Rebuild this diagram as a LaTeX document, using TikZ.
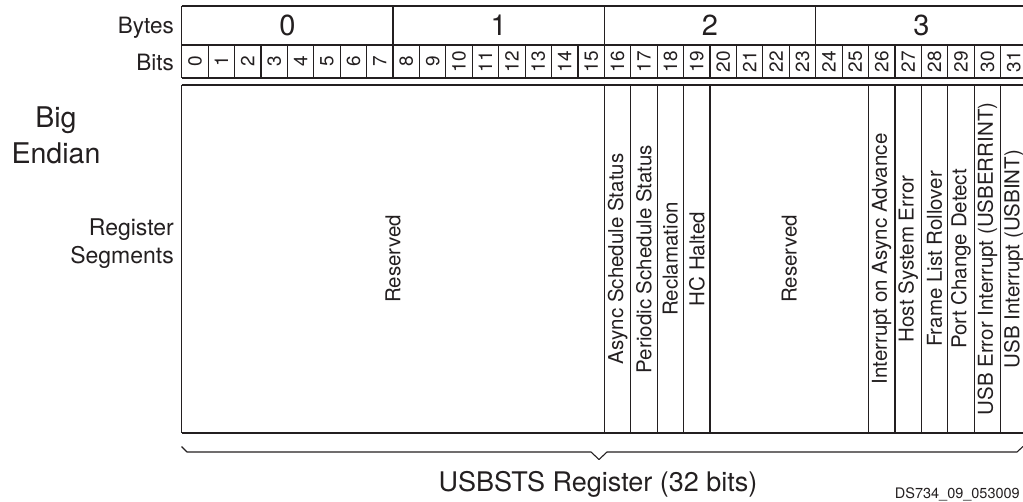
\documentclass[tikz,border=0pt]{standalone}
\usepackage{fontspec}
\setmainfont{TeX Gyre Heros}
\definecolor{ink}{HTML}{231F20}
\begin{document}
\begin{tikzpicture}[x=1pt,y=-1pt,
  grid/.style={draw=ink, line width=1.1pt},
  bytelbl/.style={inner sep=0pt, text=ink, font=\fontsize{29}{29}\selectfont},
  bitlbl/.style={rotate=90, inner sep=0pt, text=ink, font=\fontsize{19}{19}\selectfont},
  seglbl/.style={rotate=90, inner sep=0pt, text=ink, font=\fontsize{20.5}{21}\selectfont},
  sidelbl/.style={inner sep=0pt, text=ink, font=\fontsize{22.5}{23}\selectfont, anchor=base east},
  biglbl/.style={inner sep=0pt, text=ink, font=\fontsize{28.5}{29}\selectfont, anchor=base},
  reglbl/.style={inner sep=0pt, text=ink, font=\fontsize{23}{23}\selectfont, anchor=base east},
  titlelbl/.style={inner sep=0pt, text=ink, font=\fontsize{27}{27}\selectfont, anchor=base},
  idlbl/.style={inner sep=0pt, text=ink, font=\fontsize{14.5}{15}\selectfont, anchor=base east}]
\useasboundingbox (0,0) rectangle (1023,502);
\def\L{181.7}
\def\W{26.417}
\def\R{1027}
% header
\draw[grid] (\L,6) -- (\R,6);
\draw[grid] (\L,45) -- (\R,45);
\draw[grid] (\L,78) -- (\R,78);
\draw[grid] (\L,6) -- (\L,78);
\foreach \b in {1,2,3} \draw[grid] ({\L+8*\b*\W},6) -- ({\L+8*\b*\W},78);
\foreach \i in {1,...,31} \draw[grid] ({\L+\i*\W},45) -- ({\L+\i*\W},78);
\foreach \b in {0,...,3} \node[bytelbl] (byte\b) at ({\L+(8*\b+4)*\W},25.5) {\b};
\foreach \i in {0,...,31} \node[bitlbl] (bit\i) at ({\L+(\i+0.5)*\W},61.5) {\i};
\node[sidelbl] (bytes) at (174,33.5) {Bytes};
\node[sidelbl] (bits) at (174,70.5) {Bits};
% register body
\draw[grid] (\L,85) -- (\R,85);
\draw[grid] (\L,433) -- (\R,433);
\draw[grid] (\L,85) -- (\L,433);
\foreach \i in {16,17,18,19,20,26,27,28,29,30,31} \draw[grid] ({\L+\i*\W},85) -- ({\L+\i*\W},433);
\node[seglbl] (res0) at ({\L+8*\W},259) {Reserved};
\node[seglbl] (s16) at ({\L+16.5*\W},259) {Async Schedule Status};
\node[seglbl] (s17) at ({\L+17.5*\W},259) {Periodic Schedule Status};
\node[seglbl] (s18) at ({\L+18.5*\W},259) {Reclamation};
\node[seglbl] (s19) at ({\L+19.5*\W},259) {HC Halted};
\node[seglbl] (res1) at ({\L+23*\W},259) {Reserved};
\node[seglbl] (s26) at ({\L+26.5*\W},259) {Interrupt on Async Advance};
\node[seglbl] (s27) at ({\L+27.5*\W},259) {Host System Error};
\node[seglbl] (s28) at ({\L+28.5*\W},259) {Frame List Rollover};
\node[seglbl] (s29) at ({\L+29.5*\W},259) {Port Change Detect};
\node[seglbl] (s30) at ({\L+30.5*\W},259) {USB Error Interrupt (USBERRINT)};
\node[seglbl] (s31) at ({\L+31.5*\W},259) {USB Interrupt (USBINT)};
% left labels
\node[biglbl] (big) at (56,128) {Big};
\node[biglbl] (endian) at (56,164) {Endian};
\node[reglbl] (register) at (174,236) {Register};
\node[reglbl] (segments) at (174,264) {Segments};
% brace
\draw[draw=ink, line width=1.1pt, line join=round]
  (181.5,446.5) -- (187,452) -- (591,452) -- (599,459.5) -- (607,452) -- (1017,452) -- (1023,446.5);
\node[titlelbl] (title) at (598,491) {USBSTS Register (32 bits)};
\node[idlbl] (figid) at (1020,498) {DS734\_09\_053009};
\end{tikzpicture}
\end{document}
